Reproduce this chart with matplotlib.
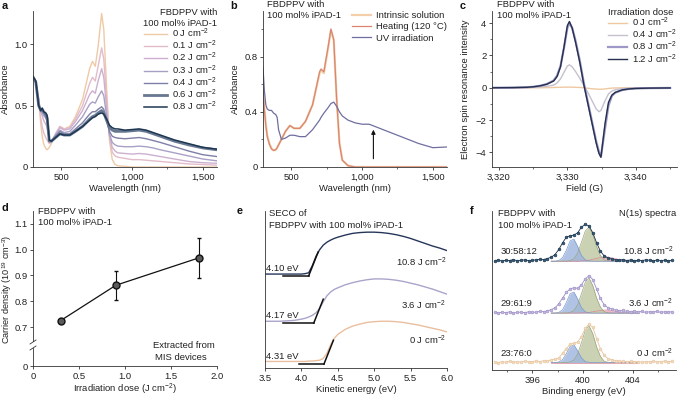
import numpy as np
import matplotlib
matplotlib.use("Agg")
import matplotlib.pyplot as plt
from matplotlib.ticker import FuncFormatter
from matplotlib.lines import Line2D

# ---------------- data ----------------
# (a) absorbance vs wavelength for irradiation doses
wl_a = [300, 320, 340, 355, 365, 375, 390, 400, 415, 430, 460, 490, 520, 560, 600, 650, 700, 720, 740, 760,
        785, 800, 820, 840, 860, 880, 900, 950, 1000, 1050, 1100, 1150, 1200, 1300, 1400, 1500, 1600]
doses_a = ['0 J cm$^{-2}$', '0.1 J cm$^{-2}$', '0.2 J cm$^{-2}$', '0.3 J cm$^{-2}$',
           '0.4 J cm$^{-2}$', '0.6 J cm$^{-2}$', '0.8 J cm$^{-2}$']
abs_0 = [.73, .70, .55, .35, .25, .19, .15, .14, .16, .19, .27, .33, .31, .33, .41, .55, .80, .86, .82, .98,
         1.25, 1.12, .65, .22, .06, .02, .01, .005, 0, 0, 0, 0, 0, 0, 0, 0, 0]
abs_01 = [.72, .69, .56, .40, .33, .28, .24, .22, .19, .20, .27, .33, .31, .32, .39, .50, .68, .73, .70, .82,
          .97, .88, .55, .25, .12, .09, .08, .07, .06, .06, .055, .05, .045, .035, .025, .02, .015]
abs_02 = [.72, .69, .55, .45, .42, .38, .35, .32, .22, .21, .27, .32, .30, .31, .37, .46, .59, .62, .60, .70,
          .80, .73, .48, .26, .16, .13, .115, .11, .105, .11, .105, .095, .085, .065, .045, .035, .03]
abs_03 = [.72, .69, .52, .45, .44, .42, .40, .37, .22, .21, .26, .30, .28, .29, .34, .41, .51, .53, .52, .57,
          .62, .58, .42, .27, .20, .18, .17, .165, .165, .17, .165, .155, .14, .115, .09, .065, .05]
abs_04 = [.73, .69, .50, .46, .46, .44, .41, .38, .21, .21, .25, .29, .27, .27, .31, .36, .43, .45, .45, .47,
          .49, .47, .38, .29, .25, .24, .235, .23, .235, .24, .23, .215, .20, .165, .13, .10, .085]
abs_06 = [.73, .69, .50, .46, .47, .45, .43, .40, .21, .21, .24, .27, .26, .26, .29, .33, .39, .41, .42, .44,
          .46, .44, .38, .32, .30, .29, .29, .29, .295, .30, .29, .27, .25, .21, .18, .155, .14]
abs_08 = [.74, .70, .50, .46, .48, .45, .44, .42, .22, .21, .24, .27, .26, .26, .29, .33, .38, .40, .41, .43,
          .44, .43, .39, .34, .32, .31, .31, .30, .305, .31, .30, .28, .26, .22, .19, .16, .145]

# (b) solution / heating / UV
wl_b = [300, 310, 320, 330, 345, 360, 375, 390, 400, 410, 430, 460, 490, 520, 560, 600, 650, 700, 710, 730,
        760, 780, 800, 820, 840, 860, 900, 950, 1000, 1050, 1100, 1200, 1300, 1400, 1500, 1600]
b_labels = ['Intrinsic solution', 'Heating (120 °C)', 'UV irradiation']
b_intrinsic = [.56, .42, .31, .23, .17, .135, .12, .125, .14, .16, .20, .26, .30, .28, .28, .33, .45, .68, .70, .68,
               .86, .99, .92, .50, .18, .05, .01, 0, 0, 0, 0, 0, 0, 0, 0, 0]
b_heating = [.55, .41, .30, .22, .165, .13, .12, .125, .14, .16, .20, .26, .30, .28, .28, .33, .45, .69, .71, .69,
             .87, 1.0, .92, .50, .17, .05, .01, 0, 0, 0, 0, 0, 0, 0, 0, 0]
b_uv = [.72, .55, .45, .42, .41, .41, .39, .38, .36, .27, .20, .21, .23, .23, .22, .22, .27, .34, .36, .39,
        .43, .46, .47, .44, .40, .37, .34, .32, .31, .31, .29, .25, .21, .17, .14, .145]
b_arrow_wl = 1080

# (c) ESR
field = [3318.5, 3322, 3324, 3325, 3326, 3327, 3328, 3328.5, 3329, 3329.5, 3330, 3330.3, 3330.7, 3331.2,
         3331.8, 3332.4, 3333, 3333.6, 3334.2, 3334.6, 3334.9, 3335.5, 3336, 3336.5, 3337, 3338, 3339,
         3340, 3342, 3345]
c_labels = ['0 J cm$^{-2}$', '0.4 J cm$^{-2}$', '0.8 J cm$^{-2}$', '1.2 J cm$^{-2}$']
esr_0 = [0, 0, 0, 0, 0, .01, .02, .03, .03, .04, .04, .04, .04, .03, .02, 0, -.03, -.06, -.08, -.09,
         -.09, -.07, -.04, -.02, -.01, 0, 0, 0, 0, 0]
esr_04 = [0, .01, .02, .03, .05, .09, .17, .30, .55, .95, 1.35, 1.42, 1.30, 1.0, .60, .15, -.30, -.80,
          -1.30, -1.48, -1.40, -.80, -.38, -.20, -.12, -.05, -.03, -.02, -.01, 0]
esr_08 = [0, .01, .03, .06, .12, .23, .45, .75, 1.35, 2.45, 3.70, 4.0, 3.70, 2.90, 1.70, .30, -.90,
          -2.10, -3.30, -3.95, -4.25, -2.50, -1.10, -.50, -.30, -.14, -.07, -.04, -.02, -.01]
esr_12 = [0, .01, .03, .06, .12, .22, .42, .70, 1.30, 2.50, 3.85, 4.10, 3.70, 2.80, 1.60, .20, -1.0,
          -2.20, -3.40, -4.05, -4.30, -2.20, -.90, -.45, -.28, -.13, -.07, -.04, -.02, -.01]

# (d) carrier density
dose_d = [0.3, 0.9, 1.8]
density = [0.725, 0.862, 0.968]
density_err = [0.006, 0.057, 0.078]

# (e) SECO
ke = [3.5, 3.7, 3.9, 4.0, 4.05, 4.1, 4.15, 4.2, 4.25, 4.3, 4.35, 4.4, 4.45, 4.5, 4.6, 4.7, 4.8, 4.9,
      5.0, 5.1, 5.2, 5.3, 5.4, 5.5, 5.6, 5.7, 5.8, 5.9, 6.0]
seco_0 = [.02, .02, .02, .02, .02, .03, .03, .04, .05, .09, .22, .42, .58, .68, .80, .88, .93, .97,
          .99, 1.0, 1.0, .99, .97, .94, .91, .87, .83, .79, .74]
seco_36 = [0, 0, .02, .05, .07, .10, .14, .20, .30, .46, .60, .69, .75, .79, .86, .91, .95, .98,
           1.0, 1.0, .99, .97, .94, .90, .86, .81, .76, .70, .64]
seco_108 = [0, 0, 0, 0, .01, .03, .20, .42, .58, .69, .76, .81, .85, .88, .93, .97, .99, 1.0,
            1.0, .99, .97, .94, .90, .85, .79, .73, .67, .62, .56]
seco_labels = ['0 J cm$^{-2}$', '3.6 J cm$^{-2}$', '10.8 J cm$^{-2}$']
seco_onset = [4.31, 4.17, 4.10]

# (f) N(1s) XPS
be = np.linspace(393.0, 407.1, 48)
xps_0 = [.02, .00, .03, .01, .04, .02, .03, .01, .04, .02, .03, .05, .03, .06, .05, .08, .10, .14, .28, .42,
         .55, .58, .62, .78, 1.02, 1.15, 1.05, .72, .42, .22, .12, .08, .06, .04, .05, .03, .04, .02, .03, .01,
         .03, .02, .04, .02, .03, .05, .03, .04]
xps_36 = [.02, .00, .03, .01, .04, .00, .02, .03, .01, .04, .02, .03, .05, .04, .07, .10, .16, .28, .45, .62,
          .72, .76, .74, .85, 1.02, 1.12, 1.0, .72, .44, .25, .16, .12, .09, .07, .08, .05, .04, .06, .03, .05,
          .02, .04, .03, .05, .02, .04, .03, .04]
xps_108 = [.01, .04, .00, .03, .02, .05, .01, .03, .04, .02, .03, .04, .06, .05, .08, .12, .20, .35, .55, .72,
           .76, .78, .85, 1.02, 1.10, 1.05, .85, .55, .30, .16, .10, .06, .04, .03, .05, .02, .04, .01, .03, .02,
           .04, .03, .01, .04, .02, .03, .01, .03]
comp_x = np.linspace(397.5, 404.4, 24)
blue_0 = [0, 0, .02, .09, .27, .49, .53, .35, .14, .03, .01, 0, 0, 0, 0, 0, 0, 0, 0, 0, 0, 0, 0, 0]
green_0 = [0, 0, 0, 0, 0, .02, .08, .26, .60, .97, 1.10, .86, .47, .19, .04, .01, 0, 0, 0, 0, 0, 0, 0, 0]
pink_0 = [0] * 24
blue_36 = [0, 0, .02, .10, .32, .58, .63, .42, .16, .04, .01, 0, 0, 0, 0, 0, 0, 0, 0, 0, 0, 0, 0, 0]
green_36 = [0, 0, 0, 0, 0, .02, .07, .25, .58, .92, 1.05, .82, .45, .18, .04, .01, 0, 0, 0, 0, 0, 0, 0, 0]
pink_36 = [0, 0, 0, 0, 0, 0, 0, 0, .01, .01, .02, .04, .06, .08, .09, .09, .07, .05, .04, .02, .01, 0, 0, 0]
blue_108 = [0, 0, .02, .11, .33, .61, .66, .44, .17, .04, .01, 0, 0, 0, 0, 0, 0, 0, 0, 0, 0, 0, 0, 0]
green_108 = [0, 0, 0, 0, 0, .02, .07, .25, .57, .90, 1.02, .80, .44, .17, .04, .01, 0, 0, 0, 0, 0, 0, 0, 0]
pink_108 = [0, 0, 0, 0, 0, 0, 0, 0, .01, .02, .03, .06, .08, .11, .12, .12, .10, .07, .05, .03, .01, .01, 0, 0]
xps_ratios = ['23:76:0', '29:61:9', '30:58:12']
xps_labels = ['0 J cm$^{-2}$', '3.6 J cm$^{-2}$', '10.8 J cm$^{-2}$']

# ---------------- style ----------------
FS = 6.8
plt.rcParams.update({
    'font.family': ['Liberation Sans', 'DejaVu Sans'],
    'font.size': FS,
    'mathtext.fontset': 'custom',
    'mathtext.rm': 'Liberation Sans',
    'mathtext.it': 'Liberation Sans:italic',
    'mathtext.bf': 'Liberation Sans:bold',
    'mathtext.default': 'regular',
    'axes.linewidth': 0.6,
    'axes.edgecolor': '#333333',
    'text.color': '#222222',
    'axes.labelcolor': '#222222',
    'xtick.color': '#333333', 'ytick.color': '#333333',
    'xtick.labelcolor': '#222222', 'ytick.labelcolor': '#222222',
    'xtick.major.width': 0.6, 'ytick.major.width': 0.6,
    'xtick.minor.width': 0.5, 'ytick.minor.width': 0.5,
    'xtick.major.size': 2.5, 'ytick.major.size': 2.5,
    'xtick.minor.size': 1.6, 'ytick.minor.size': 1.6,
    'xtick.major.pad': 1.5, 'ytick.major.pad': 1.5,
    'xtick.labelsize': FS, 'ytick.labelsize': FS,
    'axes.labelsize': FS,
    'legend.fontsize': FS,
    'legend.title_fontsize': FS,
})

W, H = 685, 398
fig = plt.figure(figsize=(6.85, 3.98), dpi=100)


def rect(l, t, r, b):
    return [l / W, 1 - b / H, (r - l) / W, (b - t) / H]


def clean(ax):
    ax.spines['top'].set_visible(False)
    ax.spines['right'].set_visible(False)


comma = FuncFormatter(lambda v, p: f'{v:,.0f}')
dec1 = FuncFormatter(lambda v, p: '0' if abs(v) < 1e-9 else f'{v:.1f}')


def ftext(x, y, s, **kw):
    fig.text(x / W, 1 - y / H, s, **kw)


# ---------------- a ----------------
axa = fig.add_axes(rect(33, 11, 217, 167))
clean(axa)
cols_a = ['#efcaa6', '#e2bccb', '#cdb0cf', '#a9a0c6', '#7e7fa8', '#66778f', '#1e3753']
lws_a = [1.0, 1.0, 1.0, 1.0, 1.0, 2.0, 1.1]
for lab, vals, c, lw in zip(doses_a, [abs_0, abs_01, abs_02, abs_03, abs_04, abs_06, abs_08], cols_a, lws_a):
    axa.plot(wl_a, vals, color=c, lw=lw, label=lab, solid_joinstyle='round')
axa.set_xlim(300, 1600)
axa.set_ylim(0, 1.27)
axa.set_xticks([500, 1000, 1500])
axa.set_xticks([750, 1250], minor=True)
axa.xaxis.set_major_formatter(comma)
axa.set_yticks([0, 0.5, 1.0])
axa.yaxis.set_major_formatter(dec1)
axa.set_xlabel('Wavelength (nm)', labelpad=2)
axa.set_ylabel('Absorbance', labelpad=3)
leg = axa.legend(loc='upper right', bbox_to_anchor=(1.0, 1.02), frameon=False,
                 title='FBDPPV with\n100 mol% iPAD-1', handlelength=2.4, handletextpad=0.5,
                 labelspacing=-0.12, borderpad=0, borderaxespad=0, alignment='right')
leg.get_title().set_multialignment('right')
leg.get_title().set_linespacing(1.3)

# ---------------- b ----------------
axb = fig.add_axes(rect(263, 11, 447, 167))
clean(axb)
axb.plot(wl_b, b_intrinsic, color='#f2cfa9', lw=1.6, label=b_labels[0])
axb.plot(wl_b, b_heating, color='#d98570', lw=0.9, label=b_labels[1])
axb.plot(wl_b, b_uv, color='#6e6f9f', lw=0.9, label=b_labels[2])
axb.annotate('', xy=(b_arrow_wl, 0.27), xytext=(b_arrow_wl, 0.06),
             arrowprops=dict(arrowstyle='-|>', lw=0.8, color='#111111', mutation_scale=6,
                             shrinkA=0, shrinkB=0))
axb.set_xlim(300, 1600)
axb.set_ylim(0, 1.13)
axb.set_xticks([500, 1000, 1500])
axb.set_xticks([750, 1250], minor=True)
axb.xaxis.set_major_formatter(comma)
axb.set_yticks([0, 0.4, 0.8])
axb.set_yticks([0.2, 0.6, 1.0], minor=True)
axb.yaxis.set_major_formatter(dec1)
axb.set_xlabel('Wavelength (nm)', labelpad=2)
axb.set_ylabel('Absorbance', labelpad=3)
axb.legend(loc='upper right', bbox_to_anchor=(1.0, 1.0), frameon=False, handlelength=2.0,
           handletextpad=0.5, labelspacing=0.25, borderpad=0, borderaxespad=0)
ftext(267, 0, 'FBDPPV with\n100 mol% iPAD-1', va='top', ha='left', linespacing=1.3)

# ---------------- c ----------------
axc = fig.add_axes(rect(492, 11, 677, 167))
clean(axc)
cols_c = ['#efc8a2', '#c6c1cd', '#9e98c6', '#25304f']
lws_c = [1.0, 1.0, 1.6, 1.0]
for lab, vals, c, lw in zip(c_labels, [esr_0, esr_04, esr_08, esr_12], cols_c, lws_c):
    axc.plot(field, vals, color=c, lw=lw, label=lab)
axc.set_xlim(3319, 3346)
axc.set_ylim(-4.9, 4.75)
axc.set_xticks([3320, 3330, 3340])
axc.set_xticks([3325, 3335, 3345], minor=True)
axc.xaxis.set_major_formatter(comma)
axc.set_yticks([-4, -2, 0, 2, 4])
axc.set_yticks([-3, -1, 1, 3], minor=True)
axc.set_xlabel('Field (G)', labelpad=2)
axc.set_ylabel('Electron spin resonance intensity', labelpad=4)
lc = axc.legend(loc='upper right', bbox_to_anchor=(1.0, 1.02), frameon=False, title='Irradiation dose',
                handlelength=2.0, handletextpad=0.5, labelspacing=-0.12, borderpad=0, borderaxespad=0,
                alignment='left')
ftext(497, 0, 'FBDPPV with\n100 mol% iPAD-1', va='top', ha='left', linespacing=1.3)

# ---------------- d ----------------
axd = fig.add_axes(rect(33, 211, 217, 341))
axd2 = fig.add_axes(rect(33, 348, 217, 366))
axd2.set_facecolor('none')
for ax in (axd, axd2):
    clean(ax)
axd.spines['bottom'].set_visible(False)
axd.errorbar(dose_d, density, yerr=density_err, fmt='-o', color='#111111', lw=0.9, ms=5,
             mfc='#5a5a5a', mec='#111111', mew=1.0, elinewidth=0.8, capsize=1.5, capthick=0.8)
axd.set_xlim(0, 2.0)
axd.set_ylim(0.646, 1.15)
axd.set_yticks([0.7, 0.8, 0.9, 1.0, 1.1])
axd.yaxis.set_major_formatter(dec1)
axd.tick_params(axis='x', bottom=False, labelbottom=False)
axd2.set_xlim(0, 2.0)
axd2.set_ylim(0, 1)
axd2.set_yticks([0])
axd2.yaxis.set_major_formatter(dec1)
axd2.set_xticks([0, 0.5, 1.0, 1.5, 2.0])
axd2.xaxis.set_major_formatter(dec1)
axd2.set_xlabel('Irradiation dose (J cm$^{-2}$)', labelpad=1)
for yb in (342, 348):
    fig.add_artist(Line2D([30 / W, 36 / W], [1 - (yb + 2) / H, 1 - (yb - 2) / H], lw=0.6, color='#333333'))
ftext(7.2, 289, 'Carrier density (10$^{19}$ cm$^{-3}$)', rotation=90, ha='center', va='center',
      fontsize=6.6)
ftext(38, 207, 'FBDPPV with\n100 mol% iPAD-1', va='top', ha='left', linespacing=1.3)
ftext(215, 345, 'Extracted from', va='center', ha='right')
ftext(155, 357, 'MIS devices', va='center', ha='left')

# ---------------- e ----------------
axe = fig.add_axes(rect(265, 211, 447, 368))
clean(axe)
offs_e = [0.0, 0.93, 2.0]
scale_e = [0.93, 0.96, 0.95]
cols_e = ['#e9bf9f', '#aaa4cb', '#26365a']
starts_e = [3.97, 3.75, 3.75]
lab_dy = [0.5, 0.37, 0.26]
for vals, off, sc, c, on, st, lab, dy in zip([seco_0, seco_36, seco_108], offs_e, scale_e, cols_e,
                                              seco_onset, starts_e, seco_labels, lab_dy):
    axe.plot(ke, off + sc * np.array(vals), color=c, lw=1.0)
    axe.plot([st, on], [off - 0.04, off - 0.04], color='#111111', lw=1.1)
    axe.plot([on, on + 0.13], [off - 0.04, off + 0.5], color='#111111', lw=1.1)
    axe.text(3.52, off + 0.13, f'{on:.2f} eV', ha='left', va='center')
    axe.text(5.99, off + dy, lab, ha='right', va='center')
axe.set_xlim(3.5, 6.0)
axe.set_ylim(-0.13, 3.43)
axe.set_xticks([3.5, 4.0, 4.5, 5.0, 5.5, 6.0])
axe.xaxis.set_major_formatter(FuncFormatter(lambda v, p: f'{v:.1f}'))
axe.set_yticks([])
axe.set_xlabel('Kinetic energy (eV)', labelpad=2)
axe.text(0.02, 1.01, 'SECO of\nFBDPPV with 100 mol% iPAD-1', transform=axe.transAxes,
         va='top', ha='left', linespacing=1.3)

# ---------------- f ----------------
axf = fig.add_axes(rect(492, 211, 676, 370))
clean(axf)
offs_f = [0.0, 1.48, 3.03]
pt_face = ['#f3dcc0', '#c4b8df', '#2f5f7f']
pt_edge = ['#e6c39c', '#9a8cc4', '#1a2d44']
comps = [(blue_0, green_0, pink_0), (blue_36, green_36, pink_36), (blue_108, green_108, pink_108)]
for data, off, (bl, gr, pk), fc, ec, rat, lab in zip([xps_0, xps_36, xps_108], offs_f, comps, pt_face,
                                                    pt_edge, xps_ratios, xps_labels):
    axf.fill_between(comp_x, off, off + np.array(pk), color='#eba7b7', alpha=0.8, lw=0)
    axf.plot(comp_x, off + np.array(pk), color='#d98798', lw=0.5)
    axf.fill_between(comp_x, off, off + np.array(gr), color='#c2cba6', alpha=0.85, lw=0)
    axf.plot(comp_x, off + np.array(gr), color='#99a47f', lw=0.5)
    axf.fill_between(comp_x, off, off + np.array(bl), color='#9cb4de', alpha=0.8, lw=0)
    axf.plot(comp_x, off + np.array(bl), color='#7c99cc', lw=0.5)
    axf.plot(be, off + np.array(data), '-o', color=ec, lw=0.6, ms=2.0, mfc=fc, mec=ec, mew=0.4)
    axf.text(393.5, off + 0.28, rat, ha='left', va='center')
    axf.text(407.2, off + 0.28, lab, ha='right', va='center')
axf.set_xlim(392.8, 407.4)
axf.set_ylim(-0.22, 4.53)
axf.set_xticks([396, 400, 404])
axf.set_xticks([394, 398, 402, 406], minor=True)
axf.set_yticks([])
axf.set_xlabel('Binding energy (eV)', labelpad=2)
axf.text(0.03, 1.01, 'FBDPPV with\n100 mol% iPAD-1', transform=axf.transAxes, va='top', ha='left',
         linespacing=1.3)
axf.text(1.0, 1.01, 'N(1s) spectra', transform=axf.transAxes, va='top', ha='right')

# ---------------- panel letters ----------------
for lt, x, y in [('a', 2, 1), ('b', 230, 1), ('c', 460, 1), ('d', 2, 203), ('e', 237, 206), ('f', 470, 206)]:
    ftext(x, y, lt, fontsize=7.8, fontweight='bold', va='top', ha='left', color='#111111')

fig.savefig('out.png', dpi=100)
